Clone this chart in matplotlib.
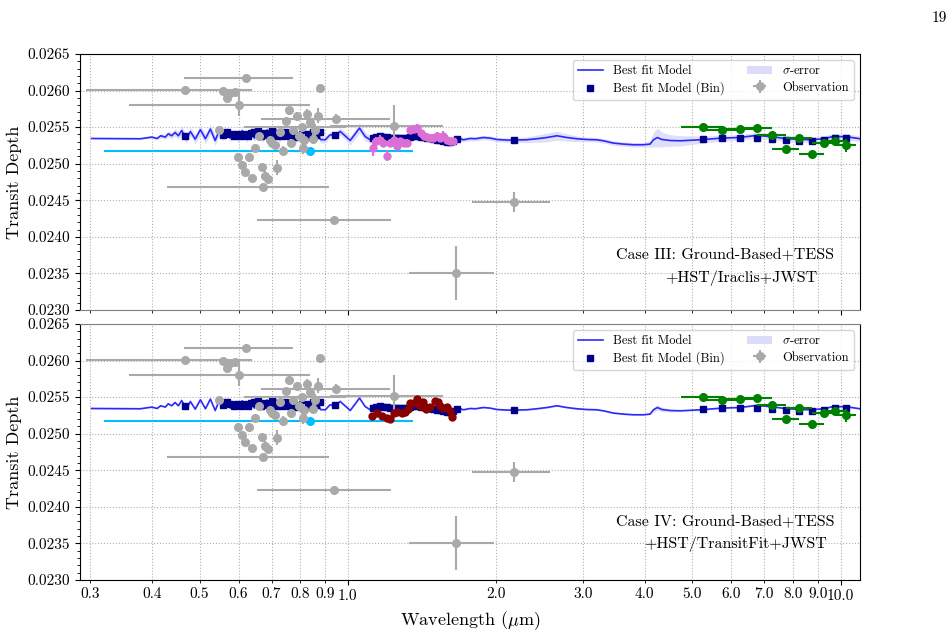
import numpy as np
import matplotlib
matplotlib.use('Agg')
import matplotlib.pyplot as plt
from matplotlib.ticker import FixedLocator, FormatStrFormatter, AutoMinorLocator
from matplotlib.lines import Line2D
from matplotlib.patches import Patch

plt.rcParams.update({
    'font.family': 'serif', 'font.serif': ['cmr10'], 'mathtext.fontset': 'cm',
    'axes.unicode_minus': False, 'axes.formatter.use_mathtext': True})

SCALE = 1e-5  # depth values below are in units of 1e-5

# ---------------- best-fit model (line) ----------------
model_wl = [0.302, 0.379, 0.400, 0.410, 0.417, 0.426, 0.432, 0.439, 0.446, 0.453, 0.460, 0.470, 0.479, 0.490,
            0.502, 0.514, 0.526, 0.538,
            0.548, 0.558, 0.567, 0.577, 0.588, 0.598, 0.610, 0.622, 0.634, 0.646, 0.659, 0.672, 0.685, 0.698,
            0.712, 0.726, 0.740, 0.755, 0.770, 0.785, 0.800, 0.816, 0.832, 0.848, 0.864, 0.880,
            0.900, 0.920, 0.942, 0.965, 1.011, 1.056, 1.084, 1.110,
            1.15, 1.20, 1.25, 1.30, 1.35, 1.40, 1.45, 1.50, 1.55, 1.60,
            1.664, 1.677, 1.716, 1.771, 1.813, 1.885, 1.945, 2.006, 2.102, 2.175,
            2.308, 2.418, 2.534, 2.656, 2.782, 2.915, 3.055, 3.201, 3.301, 3.459,
            3.625, 3.798, 3.980, 4.105, 4.170, 4.249, 4.337, 4.508, 4.724,
            5.187, 5.74, 6.23, 6.74, 7.19, 7.78, 8.68, 9.23, 9.67, 10.29, 10.95]
model_depth = [2534.5, 2534.1, 2536.4, 2534.5, 2538.2, 2536.4, 2540.9, 2538.2, 2542.7, 2538.2, 2545.4, 2533.6,
               2544.0, 2533.6, 2546.4, 2534.1, 2547.3, 2531.7,
               2545.0, 2536.0, 2544.0, 2535.0, 2543.0, 2534.0, 2545.0, 2534.0, 2544.0, 2535.0, 2547.0, 2534.0,
               2546.0, 2535.0, 2548.0, 2533.0, 2546.0, 2534.0, 2545.0, 2532.0, 2544.0, 2531.0, 2543.0, 2532.0,
               2545.0, 2533.0,
               2532.7, 2539.5, 2538.6, 2544.1, 2531.7, 2548.7, 2537.2, 2532.7,
               2537.0, 2535.0, 2537.0, 2535.0, 2539.0, 2538.0, 2537.0, 2536.0, 2534.0, 2532.0,
               2532.7, 2535.0, 2532.7, 2534.5, 2534.1, 2535.8, 2535.0, 2533.1, 2532.3, 2532.3,
               2532.7, 2534.1, 2535.8, 2538.2, 2535.8, 2534.1, 2533.1, 2532.7, 2531.3, 2528.2,
               2526.8, 2525.9, 2525.9, 2526.8, 2532.7, 2535.8, 2533.1, 2531.7, 2531.3,
               2532.7, 2535.0, 2535.8, 2538.6, 2537.2, 2534.1, 2532.7, 2534.1, 2537.2, 2536.8, 2534.1]
sigma_top = ([1, 1, 2, 2, 3, 3, 4, 4, 5, 5, 6, 6, 6, 6, 7, 7, 7, 7] + [5] * 26 +
             [4, 4, 4, 5, 6, 7, 6, 5] + [4] * 10 + [3] * 10 +
             [4, 5, 6, 6, 5, 4, 3, 3, 3, 3] + [3, 3, 3, 4, 10, 13, 10, 8, 7] +
             [5, 4, 4, 4, 4, 4, 4, 4, 4, 4, 4])
sigma_bot = ([1] * 18 + [1] * 26 + [1] * 8 + [1] * 10 + [1] * 10 + [1] * 10 +
             [1, 1, 1, 1, 3, 4, 3, 2, 1] + [1] * 11)

# ---------------- binned model (squares) ----------------
bin_wl = ([0.468] +
          [0.559, 0.568, 0.577, 0.587, 0.596, 0.606, 0.616, 0.626, 0.636, 0.646, 0.657, 0.667, 0.678, 0.689,
           0.700, 0.712, 0.723, 0.735, 0.747, 0.759, 0.771, 0.784, 0.796, 0.809, 0.822, 0.836, 0.849, 0.863,
           0.876] +
          [0.942] +
          [1.124, 1.141, 1.163, 1.181, 1.200, 1.218, 1.238, 1.261, 1.277, 1.297, 1.321, 1.338, 1.359, 1.380,
           1.406, 1.428, 1.446, 1.469, 1.491, 1.519, 1.539, 1.563, 1.587, 1.612, 1.638, 1.664] +
          [2.175] +
          [5.25, 5.75, 6.25, 6.75, 7.25, 7.75, 8.25, 8.75, 9.25, 9.75, 10.25])
bin_depth = ([2537.2] +
             [2539.5, 2542.7, 2540.9, 2538.2, 2540.9, 2537.2, 2540.5, 2537.2, 2541.8, 2542.7, 2545.4, 2538.2,
              2541.8, 2539.5, 2545.4, 2538.2, 2541.8, 2537.2, 2542.7, 2538.2, 2541.8, 2536.4, 2539.5, 2535.0,
              2540.9, 2536.4, 2542.7, 2539.5, 2542.7] +
             [2538.6] +
             [2535.5, 2536.5, 2537.5, 2537.0, 2536.0, 2535.5, 2535.0, 2535.0, 2534.5, 2534.5, 2535.0, 2536.5,
              2537.5, 2537.5, 2536.5, 2536.0, 2535.5, 2535.0, 2534.0, 2533.0, 2532.5, 2531.5, 2530.0, 2529.5,
              2531.0, 2534.1] +
             [2532.7] +
             [2534.1, 2535.0, 2535.8, 2535.8, 2534.1, 2532.7, 2531.7, 2531.3, 2532.7, 2535.0, 2535.0])

# ---------------- literature observations (grey) ----------------
wide_wl = [0.468, 0.621, 0.600, 0.945, 1.243, 0.807, 0.672, 0.939, 1.656, 2.178]
wide_depth = [2601.1, 2617.6, 2580.2, 2561.4, 2551.9, 2550.0, 2468.4, 2423.2, 2350.2, 2447.4]
wide_yerr = [4, 4, 15, 6, 29, 4, 4, 4, 37, 14]
wide_lo = [0.294, 0.466, 0.360, 0.667, 0.920, 0.615, 0.429, 0.655, 1.328, 1.785]
wide_hi = [0.638, 0.773, 0.838, 1.218, 1.563, 0.990, 0.917, 1.222, 1.984, 2.574]

narrow_wl = [0.548, 0.5575, 0.568, 0.577, 0.590, 0.598, 0.609, 0.619, 0.629, 0.639, 0.649, 0.659, 0.669,
             0.680, 0.688, 0.696, 0.701, 0.712, 0.718, 0.729, 0.738, 0.748, 0.758, 0.766, 0.775, 0.788,
             0.794, 0.809, 0.816, 0.828, 0.839, 0.849, 0.858, 0.869, 0.879]
narrow_depth = [2546.4, 2598.8, 2589.8, 2596.6, 2598.0, 2509.0, 2498.5, 2488.5, 2509.0, 2480.3, 2521.3,
                2537.2, 2496.1, 2483.4, 2478.9, 2532.7, 2528.2, 2525.9, 2494.8, 2544.0, 2517.6, 2557.8,
                2572.8, 2528.2, 2545.4, 2564.6, 2537.2, 2521.3, 2532.7, 2568.3, 2556.4, 2534.1, 2546.4,
                2565.5, 2603.5]
narrow_yerr = [5, 4, 6, 4, 4, 5, 5, 4, 6, 4, 4, 5, 4, 6, 5, 5, 5, 5, 10, 5, 6, 5, 6, 5, 6, 6, 6, 8, 8,
               6, 6, 6, 8, 10, 6]

# TESS
tess_wl = [0.838]
tess_depth = [2518.0]
tess_lo = [0.3204]
tess_hi = [1.355]

# HST (Iraclis, top) and HST (TransitFit, bottom)
iraclis_wl = [1.124, 1.141, 1.163, 1.181, 1.200, 1.218, 1.238, 1.261, 1.277, 1.297, 1.321, 1.338, 1.359,
              1.380, 1.406, 1.428, 1.446, 1.469, 1.491, 1.519, 1.539, 1.563, 1.587, 1.612, 1.638]
iraclis_depth = [2521.3, 2530.4, 2532.7, 2528.2, 2511.2, 2528.2, 2532.7, 2524.5, 2530.4, 2528.2, 2528.2,
                 2545.4, 2547.3, 2548.7, 2541.9, 2537.2, 2536.4, 2535.0, 2535.0, 2537.2, 2535.0, 2538.2,
                 2532.7, 2530.4, 2530.4]
iraclis_yerr = [11, 6, 6, 5, 8, 6, 5, 6, 5, 5, 5, 5, 6, 5, 5, 5, 5, 6, 5, 6, 5, 6, 6, 5, 5]

transitfit_wl = [1.122, 1.145, 1.172, 1.200, 1.218, 1.238, 1.257, 1.287, 1.307, 1.327, 1.338, 1.359,
                 1.380, 1.402, 1.419, 1.441, 1.469, 1.504, 1.527, 1.539, 1.563, 1.587, 1.612, 1.630]
transitfit_depth = [2524.1, 2528.6, 2524.5, 2521.0, 2519.6, 2528.6, 2529.1, 2527.8, 2530.0, 2533.2,
                    2541.5, 2542.3, 2547.0, 2537.8, 2543.7, 2533.2, 2536.8, 2545.0, 2542.8, 2537.8,
                    2534.6, 2536.8, 2531.3, 2523.1]
transitfit_yerr = [3] * 24

# JWST
jwst_wl = [5.25, 5.75, 6.25, 6.75, 7.25, 7.75, 8.25, 8.75, 9.25, 9.75, 10.25]
jwst_depth = [2549.5, 2546.4, 2547.7, 2548.7, 2539.5, 2520.0, 2535.8, 2513.5, 2528.2, 2531.3, 2525.0]
jwst_yerr = [3, 3, 3, 3, 3, 3, 3, 4, 6, 4, 9]
jwst_xerr = [0.5] * 11

xtick_major = [1.0, 10.0]
xtick_minor = [0.3, 0.4, 0.5, 0.6, 0.7, 0.8, 0.9, 2.0, 3.0, 4.0, 5.0, 6.0, 7.0, 8.0, 9.0]

# ---------------------------------------------------------------
def arr(v):
    return np.asarray(v, dtype=float) * SCALE

fig = plt.figure(figsize=(9.5, 6.35), dpi=100)
ax_top = fig.add_axes([0.0842, 0.5118, 0.8211, 0.4032])
ax_bot = fig.add_axes([0.0842, 0.0866, 0.8211, 0.4032])

GREY = '#a9a9a9'


def draw(ax, sigma, hst_wl, hst_depth, hst_yerr, hst_color):
    mw = np.asarray(model_wl)
    md = arr(model_depth)
    sg = arr(sigma)
    ax.fill_between(mw, md - sg, md + sg, color='#dcdcf8', lw=0, alpha=0.9, zorder=1)
    ax.plot(mw, md, color='#2a2aff', lw=1.2, zorder=2)
    ax.plot(bin_wl, arr(bin_depth), ls='none', marker='s', ms=4.8, color='#00008b', zorder=3)
    # TESS
    tw = np.asarray(tess_wl)
    ax.errorbar(tw, arr(tess_depth), xerr=[tw - np.asarray(tess_lo), np.asarray(tess_hi) - tw],
                fmt='o', ms=5.5, color='#00bfff', ecolor='#00bfff', elinewidth=1.5, zorder=4)
    # grey observations
    ww = np.asarray(wide_wl)
    ax.errorbar(ww, arr(wide_depth), yerr=arr(wide_yerr),
                xerr=[ww - np.asarray(wide_lo), np.asarray(wide_hi) - ww],
                fmt='o', ms=5.5, color=GREY, ecolor=GREY, elinewidth=1.5, zorder=5)
    ax.errorbar(narrow_wl, arr(narrow_depth), yerr=arr(narrow_yerr),
                fmt='o', ms=5.5, color=GREY, ecolor=GREY, elinewidth=1.5, zorder=5)
    # HST
    ax.errorbar(hst_wl, arr(hst_depth), yerr=arr(hst_yerr), fmt='o', ms=5,
                color=hst_color, ecolor=hst_color, elinewidth=1.5, zorder=6)
    # JWST
    ax.errorbar(jwst_wl, arr(jwst_depth), yerr=arr(jwst_yerr), xerr=jwst_xerr, fmt='o', ms=5.5,
                color='green', ecolor='green', elinewidth=1.5, zorder=6)

    ax.set_xscale('log')
    ax.set_xlim(0.286, 10.95)
    ax.set_ylim(0.0230, 0.0265)
    ax.set_yticks(np.arange(0.0230, 0.02651, 0.0005))
    ax.yaxis.set_major_formatter(FormatStrFormatter('%.4f'))
    ax.yaxis.set_minor_locator(AutoMinorLocator(5))
    ax.xaxis.set_major_locator(FixedLocator(xtick_major))
    ax.xaxis.set_minor_locator(FixedLocator(xtick_minor))
    ax.xaxis.set_major_formatter(FormatStrFormatter('%.1f'))
    ax.xaxis.set_minor_formatter(FormatStrFormatter('%.1f'))
    ax.tick_params(which='both', direction='out', labelsize=11, top=False, right=False)
    ax.tick_params(which='major', length=3.5)
    ax.tick_params(which='minor', length=2)
    ax.grid(True, which='both', axis='x', ls=':', color='#b0b0b0', lw=0.8)
    ax.grid(True, which='major', axis='y', ls=':', color='#b0b0b0', lw=0.8)
    ax.set_axisbelow(True)
    ax.set_ylabel('Transit Depth', fontsize=13)

    handles = [Line2D([], [], color='#2a2aff', lw=1.2),
               Line2D([], [], ls='none', marker='s', ms=4.8, color='#00008b'),
               Patch(facecolor='#dcdcf8', edgecolor='none'),
               ax.errorbar([], [], yerr=[], xerr=[], fmt='o', ms=5.5, color=GREY, ecolor=GREY)]
    labels = ['Best fit Model', 'Best fit Model (Bin)', r'$\sigma$-error', 'Observation']
    ax.legend(handles, labels, loc='upper right', ncol=2, fontsize=9, framealpha=0.8,
              columnspacing=1.8, handlelength=2.0, labelspacing=0.35)


draw(ax_top, sigma_top, iraclis_wl, iraclis_depth, iraclis_yerr, 'orchid')
draw(ax_bot, sigma_bot, transitfit_wl, transitfit_depth, transitfit_yerr, 'darkred')

ax_top.tick_params(which='both', labelbottom=False)
ax_bot.set_xlabel(r'Wavelength ($\mu$m)', fontsize=13)
ax_top.spines['bottom'].set_color('#808080')
ax_bot.spines['top'].set_color('#808080')

ax_top.text(0.687, 0.215, 'Case III: Ground-Based+TESS', transform=ax_top.transAxes,
            fontsize=11.5, ha='left', va='center')
ax_top.text(0.750, 0.125, '+HST/Iraclis+JWST', transform=ax_top.transAxes,
            fontsize=11.5, ha='left', va='center')
ax_bot.text(0.687, 0.227, 'Case IV: Ground-Based+TESS', transform=ax_bot.transAxes,
            fontsize=11.5, ha='left', va='center')
ax_bot.text(0.723, 0.141, '+HST/TransitFit+JWST', transform=ax_bot.transAxes,
            fontsize=11.5, ha='left', va='center')

fig.text(0.989, 0.9717, '19', fontsize=11, ha='center', va='center')

fig.savefig('out.png', dpi=100)
